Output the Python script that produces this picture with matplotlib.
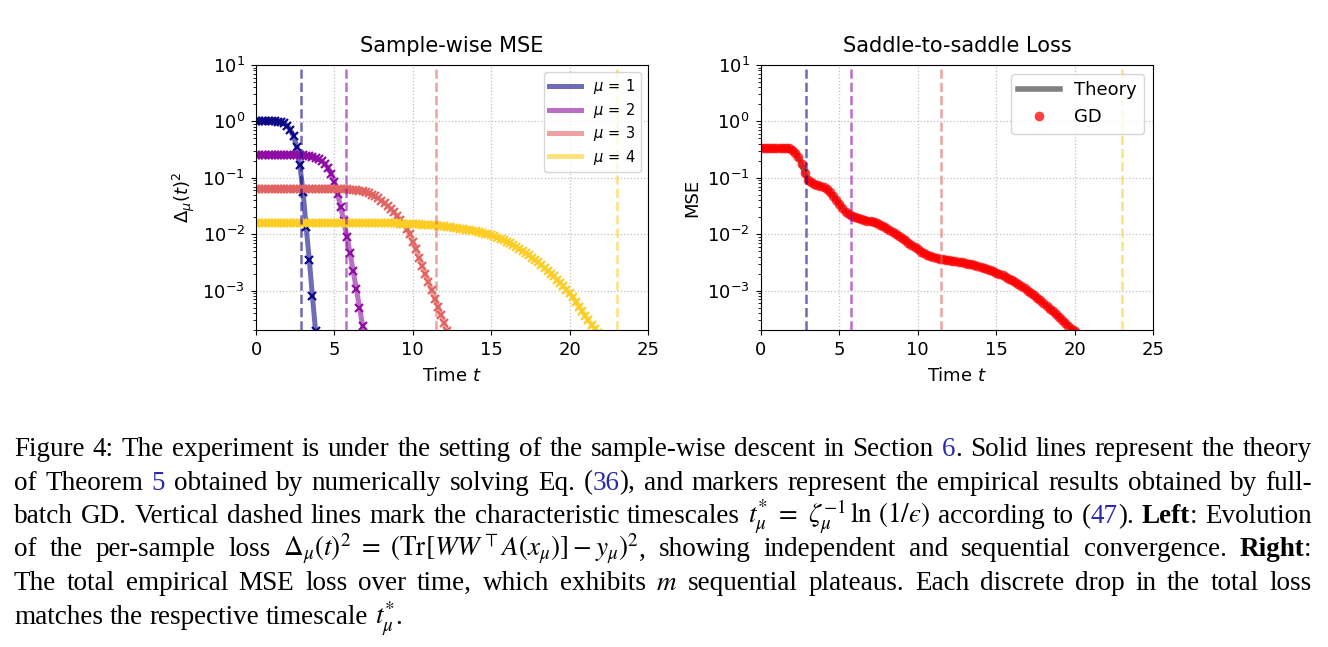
import re
import numpy as np
import matplotlib
matplotlib.use('Agg')
import matplotlib.pyplot as plt
from matplotlib.transforms import IdentityTransform

# ---------------- data ----------------
dt = 0.2  # GD sampling step of the plotted series (time units)

mu_labels = [r'$\mu\,=\,1$', r'$\mu\,=\,2$', r'$\mu\,=\,3$', r'$\mu\,=\,4$']
t_star = [2.88, 5.75, 11.50, 23.02]

delta_mu1 = [1.0] * 7 + [0.99, 0.97, 0.93, 0.84, 0.70, 0.54, 0.35, 0.166, 0.056,
                         0.0132, 0.0035, 0.00079, 0.00019, 0.000045]

delta_mu2 = [0.25] * 16 + [0.248, 0.244, 0.237, 0.227, 0.214, 0.197, 0.176, 0.150,
                           0.118, 0.085, 0.052, 0.0305, 0.0170, 0.0090, 0.0046,
                           0.0022, 0.00107, 0.00050, 0.00024, 0.00011]

delta_mu3 = [0.0625] * 29 + [0.0621, 0.0617, 0.0611, 0.0602, 0.059, 0.0575, 0.0555,
                             0.053, 0.050, 0.047, 0.0435, 0.0395, 0.0355, 0.0315,
                             0.0278, 0.0243, 0.0210, 0.0180, 0.0152, 0.01245, 0.0099,
                             0.0074, 0.0054, 0.00385, 0.00275, 0.00197, 0.00141,
                             0.00101, 0.00072, 0.00052, 0.00037, 0.000266, 0.00019,
                             0.000136]

delta_mu4 = [0.0156] * 43 + [0.0155, 0.0155, 0.0155, 0.0154, 0.0153, 0.0153, 0.0152,
                             0.0151, 0.0150, 0.0149, 0.0148, 0.0147, 0.0146, 0.0144,
                             0.0143, 0.0141, 0.0140, 0.0138, 0.0136, 0.0133, 0.0131,
                             0.0128, 0.0126, 0.0123, 0.0120, 0.0117, 0.0115, 0.0112,
                             0.0109, 0.0105, 0.0102, 0.0099, 0.0095, 0.0091, 0.0086,
                             0.0082, 0.0078, 0.0074, 0.0069, 0.0064, 0.0059, 0.0055,
                             0.0051, 0.00466, 0.00423, 0.00384, 0.00348, 0.00316,
                             0.00282, 0.00251, 0.00224, 0.00200, 0.00178, 0.00156,
                             0.00136, 0.00119, 0.00104, 0.00091, 0.00076, 0.00063,
                             0.00052, 0.00044, 0.00036, 0.00030, 0.00025, 0.00021,
                             0.000174, 0.000145]

mse_total = [0.333] * 10 + [
    0.316, 0.28, 0.23, 0.175, 0.12, 0.091, 0.083, 0.079, 0.076, 0.072,
    0.068, 0.062, 0.055, 0.048, 0.041, 0.035, 0.029, 0.025, 0.0226, 0.0209,
    0.020, 0.0193, 0.0186, 0.0180, 0.0174, 0.0168, 0.0162, 0.0155, 0.0148, 0.0140,
    0.0130, 0.0120, 0.0111, 0.0102, 0.0093, 0.0085, 0.0078, 0.0071, 0.0065, 0.0059,
    0.0054, 0.0049, 0.0046, 0.0043, 0.0041, 0.0039, 0.0038, 0.0037, 0.0036, 0.00355,
    0.00347, 0.00339, 0.00331, 0.00324, 0.00316, 0.00309, 0.00302, 0.00292, 0.00282, 0.00272,
    0.00263, 0.00254, 0.00245, 0.00234, 0.00221, 0.00209, 0.00197, 0.00186, 0.00174, 0.00162,
    0.00151, 0.00140, 0.00129, 0.00119, 0.00110, 0.00100, 0.00091, 0.00082, 0.00074, 0.00067,
    0.00060, 0.00054, 0.00048, 0.00043, 0.00038, 0.00034, 0.00030, 0.00027, 0.00024, 0.00021,
    0.00019]

x_ticks = [0, 5, 10, 15, 20, 25]

caption_lines = [
    r"Figure 4: The experiment is under the setting of the sample-wise descent in Section [[6]]. Solid lines represent the theory",
    r"of Theorem [[5]] obtained by numerically solving Eq. ([[36]]), and markers represent the empirical results obtained by full-",
    "batch GD. Vertical dashed lines mark the characteristic timescales "
    r"$t^{*}_{\mu}\ =\ \zeta_\mu^{-1}\,\ln\,(1/" "\u03f5" r")$ according to ([[47]]). **Left**: Evolution",
    r"of the per-sample loss $\Delta_\mu(t)^2\ =\ (\mathrm{Tr}[WW^\top A(x_\mu)]-y_\mu)^2$, showing independent and sequential convergence. **Right**:",
    r"The total empirical MSE loss over time, which exhibits $m$ sequential plateaus.  Each discrete drop in the total loss",
    r"matches the respective timescale $t^{*}_{\mu}$.",
]

# ---------------- figure ----------------
W, H = 1328, 647
fig = plt.figure(figsize=(W / 100, H / 100), dpi=100)
fig.patch.set_facecolor('white')

ax1 = fig.add_axes([256 / W, 1 - 330 / H, 392 / W, 265 / H])
ax2 = fig.add_axes([760.7 / W, 1 - 330 / H, 392.6 / W, 265 / H])

colors = plt.cm.plasma(np.linspace(0, 0.9, 4))

deltas = [delta_mu1, delta_mu2, delta_mu3, delta_mu4]
for i, (vals, lab) in enumerate(zip(deltas, mu_labels)):
    t = dt * np.arange(len(vals))
    ax1.plot(t, vals, '-', color=colors[i], lw=3.6, alpha=0.6, label=lab, zorder=2)
    ax1.plot(t, vals, 'x', color=colors[i], ms=6, mew=1.6, zorder=2)
for i in range(4):
    ax1.axvline(t_star[i], color=colors[i], ls='--', lw=1.8, alpha=0.6, zorder=3)

tm = dt * np.arange(len(mse_total))
ax2.plot(tm, mse_total, '-', color='gray', lw=4, label='Theory', zorder=2)
ax2.plot(tm, mse_total, 'o', color='red', ms=7, alpha=0.75, mew=0, label='GD', zorder=2)
for i in range(4):
    ax2.axvline(t_star[i], color=colors[i], ls='--', lw=1.8, alpha=0.6, zorder=3)

for ax in (ax1, ax2):
    ax.set_yscale('log')
    ax.set_xlim(0, 25)
    ax.set_ylim(2e-4, 10)
    ax.set_xticks(x_ticks)
    ax.tick_params(labelsize=13, pad=4.5)
    ax.grid(True, which='major', ls=':', color='#b0b0b0', lw=0.9, alpha=0.8)
    ax.set_xlabel('Time $t$', fontsize=13, labelpad=6)

ax1.set_title('Sample-wise MSE', fontsize=15, pad=9)
ax2.set_title('Saddle-to-saddle Loss', fontsize=15, pad=9)
ax1.set_ylabel(r'$\Delta_\mu(t)^2$', fontsize=13)
ax2.set_ylabel('MSE', fontsize=13)

ax1.legend(loc='upper right', fontsize=10.5, handlelength=2.2, labelspacing=0.3,
           borderpad=0.35)
ax2.legend(loc='upper right', fontsize=13, handlelength=2.3)

# ---------------- caption (justified) ----------------
cap_family = ['Liberation Serif', 'DejaVu Serif']
blue = '#2a2aa8'
x_left, x_right = 14, 1312
baselines = [456, 489.5, 523, 556.5, 590, 623.5]

fig.canvas.draw()
renderer = fig.canvas.get_renderer()


def split_words(line):
    words, cur, inm = [], '', False
    for ch in line:
        if ch == '$':
            inm = not inm
        if ch == ' ' and not inm:
            if cur:
                words.append(cur)
                cur = ''
        else:
            cur += ch
    if cur:
        words.append(cur)
    return words


def segments(word):
    parts = re.split(r'(\$[^$]*\$|\[\[.*?\]\]|\*\*.*?\*\*)', word)
    segs = []
    for p in parts:
        if not p:
            continue
        if p.startswith('[['):
            segs.append((p[2:-2], blue, 'normal'))
        elif p.startswith('**'):
            segs.append((p[2:-2], 'black', 'bold'))
        else:
            segs.append((p, 'black', 'normal'))
    return segs


def make_text(x, y, s, color, weight, fs):
    return fig.text(x, y, s, fontsize=fs, family=cap_family, color=color,
                    weight=weight, math_fontfamily='stix', ha='left', va='baseline',
                    transform=IdentityTransform())


def seg_width(s, color, weight, fs):
    t = make_text(0, 0, s, color, weight, fs)
    w = t.get_window_extent(renderer).width
    t.remove()
    return w


# choose the caption size so that the justified lines need only natural spacing
base_fs = 15.0
sp0 = seg_width('a b', 'black', 'normal', base_fs) - seg_width('ab', 'black', 'normal', base_fs)
nat = []
for line in caption_lines[:-1]:
    words = [segments(w) for w in split_words(line)]
    tot = sum(seg_width(*s, base_fs) for ws in words for s in ws)
    nat.append(tot + sp0 * (len(words) - 1))
cap_fs = base_fs * (x_right - x_left) / max(nat) * 0.995

space_w = seg_width('a b', 'black', 'normal', cap_fs) - seg_width('ab', 'black', 'normal', cap_fs)

for li, line in enumerate(caption_lines):
    words = [segments(w) for w in split_words(line)]
    widths = [[seg_width(*s, cap_fs) for s in wsegs] for wsegs in words]
    total = sum(sum(ws) for ws in widths)
    if li < len(caption_lines) - 1:
        gap = (x_right - x_left - total) / (len(words) - 1)
    else:
        gap = space_w
    x = x_left
    y = H - baselines[li]
    for wsegs, ws in zip(words, widths):
        for (s, c, wt), w in zip(wsegs, ws):
            make_text(x, y, s, c, wt, cap_fs)
            x += w
        x += gap

fig.savefig('out.png', dpi=100, facecolor='white')
